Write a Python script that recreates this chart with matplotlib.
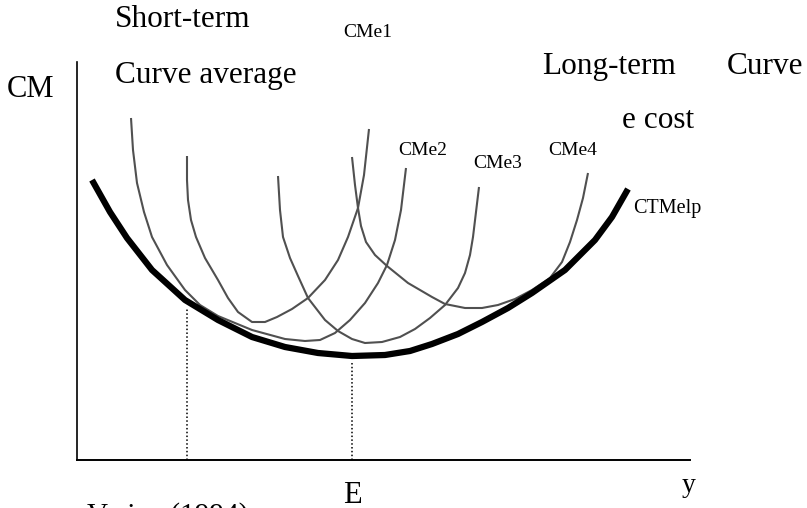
import matplotlib
matplotlib.use("Agg")
import matplotlib.pyplot as plt

# ---- data (cost units vs output units) ----
lrac_x = [15, 33, 50, 75, 108, 141, 175, 208, 241, 275, 308, 333, 355, 381, 405, 431, 455, 488, 518, 535, 551]
lrac_y = [280, 248, 222, 190, 160, 140, 123, 113, 107, 104, 105, 109, 116, 126, 138, 152, 167, 190, 220, 243, 271]

cme1_x = [54, 56, 60, 67, 75, 90, 108, 123, 141, 175, 208, 228, 243, 258, 273, 288, 301, 310, 318, 324, 329]
cme1_y = [342, 310, 277, 248, 223, 195, 170, 155, 144, 130, 121, 119, 120, 127, 140, 157, 177, 195, 220, 250, 292]

cme2_x = [110, 110, 111, 114, 119, 128, 141, 151, 161, 175, 188, 200, 215, 231, 248, 261, 271, 281, 287, 292]
cme2_y = [304, 280, 260, 240, 223, 202, 180, 162, 148, 138, 138, 143, 151, 162, 180, 200, 223, 252, 285, 331]

cme3_x = [201, 203, 206, 213, 221, 231, 248, 261, 275, 288, 305, 323, 338, 353, 368, 381, 388, 393, 396, 399, 402]
cme3_y = [284, 250, 223, 202, 184, 162, 140, 129, 121, 117, 118, 123, 131, 142, 155, 172, 187, 205, 223, 248, 273]

cme4_x = [275, 278, 281, 284, 289, 298, 310, 331, 355, 368, 388, 405, 421, 438, 455, 473, 485, 493, 500, 506, 511]
cme4_y = [303, 275, 252, 234, 218, 205, 194, 177, 163, 156, 152, 152, 155, 161, 170, 182, 198, 218, 240, 262, 287]

guide_x = [110, 275]          # output levels marked with dotted lines
guide_top = [152, 98]          # where the dotted lines stop
tick_labels = ["", "E"]

# ---- figure ----
W, H = 807, 508
fig = plt.figure(figsize=(W / 100, H / 100), dpi=100)
fig.patch.set_facecolor("white")

ax = fig.add_axes([77 / W, (H - 460) / H, 613 / W, 398 / H])
ax.set_xlim(0, 613)
ax.set_ylim(0, 398)
for s in ["top", "right"]:
    ax.spines[s].set_visible(False)
ax.spines["left"].set_linewidth(1.2)
ax.spines["bottom"].set_linewidth(1.4)
ax.set_xticks([])
ax.set_yticks([])

gray = "#505050"
for xs, ys in [(cme1_x, cme1_y), (cme2_x, cme2_y), (cme3_x, cme3_y), (cme4_x, cme4_y)]:
    ax.plot(xs, ys, color=gray, lw=1.5, solid_joinstyle="round", solid_capstyle="butt")

ax.plot(lrac_x, lrac_y, color="black", lw=4.5, solid_joinstyle="round", solid_capstyle="butt")

for gx, gt in zip(guide_x, guide_top):
    ax.plot([gx, gx], [0, gt], color="black", lw=1.1, linestyle=(0, (1, 1.5)))

serif = ["Liberation Serif", "DejaVu Serif"]


def ptext(x, y, s, size, **kw):
    fig.text(x / W, 1 - y / H, s, fontsize=size, family=serif, va="baseline", ha="left", **kw)


ptext(115, 27, "Short-term", 22.5)
ptext(343, 37, "CMe1", 14)
ptext(7, 97, "CM", 22)
ptext(115, 83, "Curve average", 22.5)
ptext(542, 74, "Long-term", 22.5)
ptext(727, 74, "Curve", 22.5)
ptext(622, 128, "e cost", 22.5)
ptext(398, 155, "CMe2", 14)
ptext(473, 168, "CMe3", 14)
ptext(548, 155, "CMe4", 14)
ptext(633, 213, "CTMelp", 14.5)

# axis labels under the x-axis
for gx, lab in zip(guide_x, tick_labels):
    if lab:
        ax.annotate(lab, xy=(gx, 0), xycoords="data", xytext=(0, -43), textcoords="offset pixels",
                    ha="center", va="baseline", fontsize=22, family=serif, annotation_clip=False)
ptext(682, 492, "y", 20)

# source note, cut off at the bottom edge as in the scan
ptext(87, 523, "Varian (1994)", 21)
fig.text(14 / W, 1 - 523 / H, "Source:", fontsize=21, family=serif, va="baseline", ha="right")

fig.savefig("out.png", dpi=100)
